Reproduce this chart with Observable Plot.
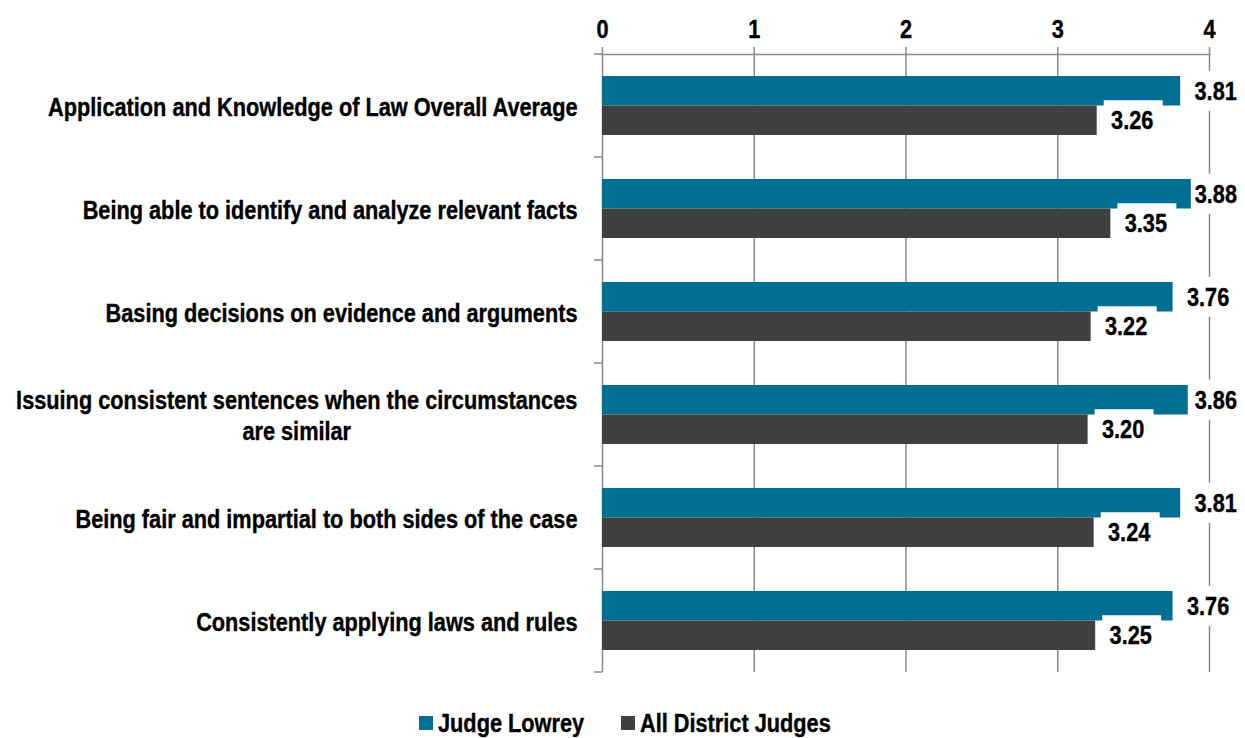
<!DOCTYPE html>
<html>
<head>
<meta charset="utf-8">
<script src="https://cdn.jsdelivr.net/npm/d3@7"></script>
<script src="https://cdn.jsdelivr.net/npm/@observablehq/plot@0.6"></script>
<style>
  html, body { margin: 0; padding: 0; background: #fff; }
  body { width: 1245px; height: 738px; overflow: hidden; font-family: "Liberation Sans", Arial, sans-serif; font-weight: bold; }
  #legend { position: relative; height: 38px; font-size: 26.5px; color: #000; margin-top: 4px; }
  .item { position: absolute; top: 0; height: 38px; display: flex; align-items: center; }
  .sw { width: 14px; height: 14px; display: inline-block; margin-right: 5px; }
  .lt { display: inline-block; transform: scaleX(0.82); transform-origin: 0 50%; white-space: nowrap; -webkit-text-stroke: 0.4px #000; }
  svg text { stroke: #000; stroke-width: 0.4px; }
</style>
</head>
<body>
<div id="chart"></div>
<div id="legend"></div>
<script>
const categories = [
  "Application and Knowledge of Law Overall Average",
  "Being able to identify and analyze relevant facts",
  "Basing decisions on evidence and arguments",
  "Issuing consistent sentences when the circumstances\nare similar",
  "Being fair and impartial to both sides of the case",
  "Consistently applying laws and rules"
];
const lowrey = [3.81, 3.88, 3.76, 3.86, 3.81, 3.76];
const allJudges = [3.26, 3.35, 3.22, 3.20, 3.24, 3.25];
const seriesNames = ["Judge Lowrey", "All District Judges"];
const seriesColors = ["#006f94", "#404040"];
const xTicks = [0, 1, 2, 3, 4];

const data = categories.map((c, i) => ({category: c, lowrey: lowrey[i], all: allJudges[i]}));

const NARROW = 0.82;
const fontSize = 26.5;
const lineColor = "#8a8a8a";
const H = 700, mTop = 54, mBottom = 28;
const step = (H - mTop - mBottom) / categories.length;
const barH = 29.5;
const tealTop = 22;
const grayTop = tealTop + barH;
const boxH = 40;
const labelRightLimit = 1237;

const chart = Plot.plot({
  width: 1245,
  height: H,
  marginLeft: 602,
  marginRight: 36,
  marginTop: mTop,
  marginBottom: mBottom,
  style: {fontFamily: '"Liberation Sans", Arial, sans-serif', fontSize: fontSize + "px", fontWeight: "bold", color: "#000", background: "#fff", overflow: "visible"},
  x: {domain: [0, 4]},
  y: {domain: categories, padding: 0},
  marks: [
    Plot.gridX({ticks: xTicks.slice(1), stroke: lineColor, strokeOpacity: 1, strokeWidth: 1.5}),
    Plot.ruleX([0], {stroke: lineColor, strokeWidth: 1.5}),
    Plot.frame({anchor: "top", stroke: lineColor, strokeWidth: 1.5}),
    Plot.axisX({anchor: "top", ticks: xTicks, tickFormat: d => String(d), tickSize: 8, tickPadding: 9, stroke: lineColor, strokeWidth: 1.5, fill: "#000"}),
    Plot.axisY({tickSize: 0, tickPadding: 25, lineHeight: 31 / fontSize, fill: "#000", label: null}),
    Plot.barX(data, {y: "category", x: "lowrey", fill: seriesColors[0], insetTop: tealTop, insetBottom: step - tealTop - barH}),
    Plot.barX(data, {y: "category", x: "all", fill: seriesColors[1], insetTop: grayTop, insetBottom: step - grayTop - barH}),
    // white label background boxes
    Plot.barX(data, {y: "category", x1: "lowrey", x2: "lowrey", fill: "white", insetLeft: 7, insetRight: -66,
      insetTop: tealTop + barH / 2 - boxH / 2, insetBottom: step - (tealTop + barH / 2 + boxH / 2)}),
    Plot.barX(data, {y: "category", x1: "all", x2: "all", fill: "white", insetLeft: 7, insetRight: -66,
      insetTop: grayTop + barH / 2 - boxH / 2, insetBottom: step - (grayTop + barH / 2 + boxH / 2)}),
    Plot.text(data, {y: "category", x: "lowrey", text: d => d.lowrey.toFixed(2), dx: 35, dy: tealTop + barH / 2 - step / 2, textAnchor: "middle", fill: "#000"}),
    Plot.text(data, {y: "category", x: "all", text: d => d.all.toFixed(2), dx: 35, dy: grayTop + barH / 2 - step / 2, textAnchor: "middle", fill: "#000"})
  ]
});

document.getElementById("chart").appendChild(chart);

// category boundary ticks on the left axis
const ys = chart.scale("y");
const xs = chart.scale("x");
const x0 = xs.apply(0);
const bounds = categories.map(c => ys.apply(c)).concat([ys.apply(categories[categories.length - 1]) + ys.bandwidth]);
d3.select(chart).append("g")
  .attr("stroke", lineColor).attr("stroke-width", 1.5)
  .selectAll("line").data(bounds).join("line")
  .attr("x1", x0 - 8).attr("x2", x0).attr("y1", d => d).attr("y2", d => d);

// narrow (condensed) text, and center multi-line category labels as a block
d3.select(chart).selectAll("text").each(function() {
  const t = this.getAttribute("transform") || "";
  const x = +this.getAttribute("x") || 0;
  let extra = "";
  const tspans = this.querySelectorAll("tspan");
  if (tspans.length > 1) {
    const w = this.getBBox().width;
    this.setAttribute("text-anchor", "middle");
    extra = ` translate(${-w * NARROW / 2},0)`;
  }
  this.setAttribute("transform", `${t}${extra} translate(${x},0) scale(${NARROW},1) translate(${-x},0)`);
});

// keep value labels inside the chart area (as the original does)
const svgLeft = chart.getBoundingClientRect().left;
d3.select(chart).selectAll('g[aria-label="text"] text').each(function() {
  const r = this.getBoundingClientRect();
  const over = (r.right - svgLeft) - labelRightLimit;
  if (over > 0) {
    this.setAttribute("transform", `translate(${-over},0) ` + this.getAttribute("transform"));
  }
});

// legend
const legend = d3.select("#legend");
let cursor = 419;
seriesNames.forEach((name, i) => {
  const item = legend.append("div").attr("class", "item").style("left", cursor + "px");
  item.append("span").attr("class", "sw").style("background", seriesColors[i]);
  const txt = item.append("span").attr("class", "lt").text(name);
  const w = txt.node().getBoundingClientRect().width;
  cursor += 14 + 5 + w + 37;
});
</script>
</body>
</html>
